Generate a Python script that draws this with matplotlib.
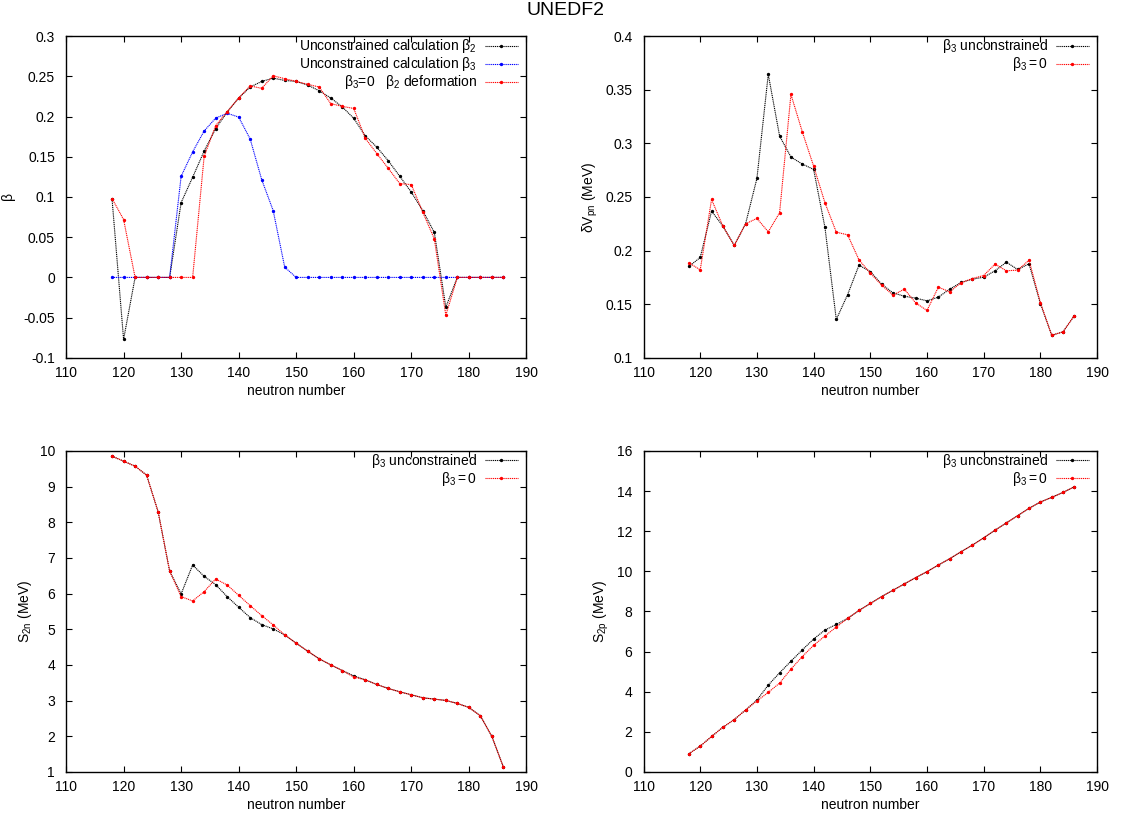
import matplotlib
matplotlib.use('Agg')
import matplotlib.pyplot as plt
import numpy as np
from matplotlib.ticker import FormatStrFormatter, MultipleLocator

plt.rcParams['font.family'] = ['Liberation Sans', 'DejaVu Sans']
plt.rcParams['mathtext.fontset'] = 'custom'
plt.rcParams['mathtext.rm'] = 'Liberation Sans'
plt.rcParams['mathtext.it'] = 'Liberation Sans'

# neutron numbers
N = list(range(118, 188, 2))

# beta deformations
beta2_unc = [0.097, -0.077, 0, 0, 0, 0, 0.093, 0.1245, 0.157, 0.185, 0.2055, 0.223,
             0.2366, 0.2436, 0.2477, 0.2448, 0.2436, 0.239, 0.232, 0.223, 0.212, 0.1977,
             0.176, 0.162, 0.145, 0.1257, 0.106, 0.083, 0.056, -0.037, 0, 0, 0, 0, 0]
beta3_unc = [0, 0, 0, 0, 0, 0, 0.1257, 0.156, 0.182, 0.198, 0.204, 0.1993,
             0.172, 0.1216, 0.083, 0.0128, 0, 0, 0, 0, 0, 0,
             0, 0, 0, 0, 0, 0, 0, 0, 0, 0, 0, 0, 0]
beta2_b30 = [0.098, 0.072, 0, 0, 0, 0, 0, 0, 0.1505, 0.1886, 0.206, 0.223,
             0.238, 0.235, 0.2506, 0.247, 0.2436, 0.240, 0.2366, 0.216, 0.2126, 0.210,
             0.173, 0.154, 0.1356, 0.1166, 0.1154, 0.081, 0.048, -0.047, 0, 0, 0, 0, 0]

# delta Vpn (MeV)
dvpn_unc = [0.1852, 0.1936, 0.2368, 0.2228, 0.2048, 0.225, 0.2673, 0.3643, 0.3068, 0.2872,
            0.2807, 0.2757, 0.2216, 0.1358, 0.159, 0.1864, 0.1805, 0.1687, 0.1606, 0.1575,
            0.1557, 0.1532, 0.1566, 0.1641, 0.1703, 0.1734, 0.1752, 0.1812, 0.1892, 0.1824,
            0.1877, 0.1507, 0.1211, 0.1243, 0.1395]
dvpn_b30 = [0.1886, 0.1821, 0.2477, 0.2228, 0.2048, 0.225, 0.23, 0.2175, 0.2353, 0.3456,
            0.3108, 0.2788, 0.2446, 0.2172, 0.2147, 0.1914, 0.179, 0.1678, 0.1585, 0.1641,
            0.1513, 0.1442, 0.1659, 0.1616, 0.17, 0.174, 0.1768, 0.1874, 0.1812, 0.1818,
            0.1911, 0.1516, 0.1211, 0.1243, 0.1395]

# two-neutron separation energy (MeV)
s2n_unc = [9.853, 9.713, 9.573, 9.321, 8.295, 6.634, 5.991, 6.802, 6.485, 6.252,
           5.916, 5.618, 5.328, 5.132, 5.011, 4.843, 4.61, 4.386, 4.172, 4.004,
           3.845, 3.696, 3.584, 3.453, 3.341, 3.248, 3.164, 3.08, 3.043, 3.006,
           2.922, 2.81, 2.576, 1.998, 1.14]
s2n_b30 = [9.853, 9.713, 9.573, 9.321, 8.295, 6.634, 5.916, 5.795, 6.056, 6.41,
           6.243, 5.953, 5.664, 5.384, 5.123, 4.843, 4.61, 4.386, 4.172, 4.004,
           3.845, 3.66, 3.584, 3.453, 3.341, 3.248, 3.164, 3.08, 3.043, 3.006,
           2.922, 2.81, 2.576, 1.998, 1.14]

# two-proton separation energy (MeV)
s2p_unc = [0.909, 1.289, 1.769, 2.231, 2.612, 3.091, 3.587, 4.331, 4.942, 5.521,
           6.083, 6.628, 7.074, 7.355, 7.653, 8.05, 8.397, 8.744, 9.058, 9.372,
           9.686, 9.983, 10.314, 10.628, 10.975, 11.306, 11.669, 12.05, 12.413, 12.777,
           13.14, 13.455, 13.686, 13.934, 14.215]
s2p_b30 = [0.909, 1.289, 1.769, 2.231, 2.612, 3.091, 3.537, 3.967, 4.43, 5.124,
           5.752, 6.314, 6.777, 7.223, 7.653, 8.05, 8.397, 8.744, 9.058, 9.372,
           9.686, 9.983, 10.314, 10.628, 10.975, 11.306, 11.669, 12.05, 12.413, 12.777,
           13.14, 13.455, 13.686, 13.934, 14.215]

fig = plt.figure(figsize=(11.31, 8.19), dpi=100)
ax1 = fig.add_axes([0.0584, 0.563, 0.407, 0.393])
ax2 = fig.add_axes([0.5690, 0.563, 0.401, 0.393])
ax3 = fig.add_axes([0.0584, 0.0574, 0.407, 0.392])
ax4 = fig.add_axes([0.5690, 0.0574, 0.401, 0.392])

fig.text(0.5, 0.997, 'UNEDF2', ha='center', va='top', fontsize=14)

style = dict(linestyle=(0, (1, 0.7)), linewidth=0.8, marker='o', markersize=1.4)


def gp_axes(ax, ylo, yhi, ystep, fmt):
    ax.set_xlim(110, 190)
    ax.set_ylim(ylo, yhi)
    ax.xaxis.set_major_locator(MultipleLocator(10))
    ax.yaxis.set_major_locator(MultipleLocator(ystep))
    ax.yaxis.set_major_formatter(FormatStrFormatter(fmt))
    ax.tick_params(direction='in', top=True, right=True, length=4, width=0.8,
                   labelsize=10)
    ax.tick_params(axis='x', pad=6)
    ax.tick_params(axis='y', pad=8)
    for s in ax.spines.values():
        s.set_linewidth(1.0)
    ax.set_xlabel('neutron number', fontsize=10, labelpad=3)


def gp_legend(ax):
    ax.legend(loc='upper right', bbox_to_anchor=(0.985, 1.0), frameon=False,
              markerfirst=False, fontsize=10, handlelength=2.4,
              handletextpad=0.55, borderaxespad=0, borderpad=0.1,
              labelspacing=0.0)


# beta
ax1.plot(N, beta2_unc, color='black', label=r'Unconstrained calculation $\mathrm{\beta}_2$', **style)
ax1.plot(N, beta3_unc, color='blue', label=r'Unconstrained calculation $\mathrm{\beta}_3$', **style)
ax1.plot(N, beta2_b30, color='red', label=r'$\mathrm{\beta}_3$=0   $\mathrm{\beta}_2$ deformation', **style)
gp_axes(ax1, -0.1, 0.3, 0.05, '%g')
ax1.set_ylabel(r'$\mathrm{\beta}$', fontsize=10)
gp_legend(ax1)

# delta Vpn
ax2.plot(N, dvpn_unc, color='black', label=r'$\mathrm{\beta}_3$ unconstrained', **style)
ax2.plot(N, dvpn_b30, color='red', label=r'$\mathrm{\beta}_3 = 0$', **style)
gp_axes(ax2, 0.1, 0.4, 0.05, '%g')
ax2.set_ylabel(r'$\mathrm{\delta}$V$_{\mathrm{pn}}$ (MeV)', fontsize=10)
gp_legend(ax2)

# S2n
ax3.plot(N, s2n_unc, color='black', label=r'$\mathrm{\beta}_3$ unconstrained', **style)
ax3.plot(N, s2n_b30, color='red', label=r'$\mathrm{\beta}_3 = 0$', **style)
gp_axes(ax3, 1, 10, 1, '%g')
ax3.set_ylabel(r'S$_{\mathrm{2n}}$ (MeV)', fontsize=10)
gp_legend(ax3)

# S2p
ax4.plot(N, s2p_unc, color='black', label=r'$\mathrm{\beta}_3$ unconstrained', **style)
ax4.plot(N, s2p_b30, color='red', label=r'$\mathrm{\beta}_3 = 0$', **style)
gp_axes(ax4, 0, 16, 2, '%g')
ax4.set_ylabel(r'S$_{\mathrm{2p}}$ (MeV)', fontsize=10)
gp_legend(ax4)

fig.savefig('out.png', dpi=100)
